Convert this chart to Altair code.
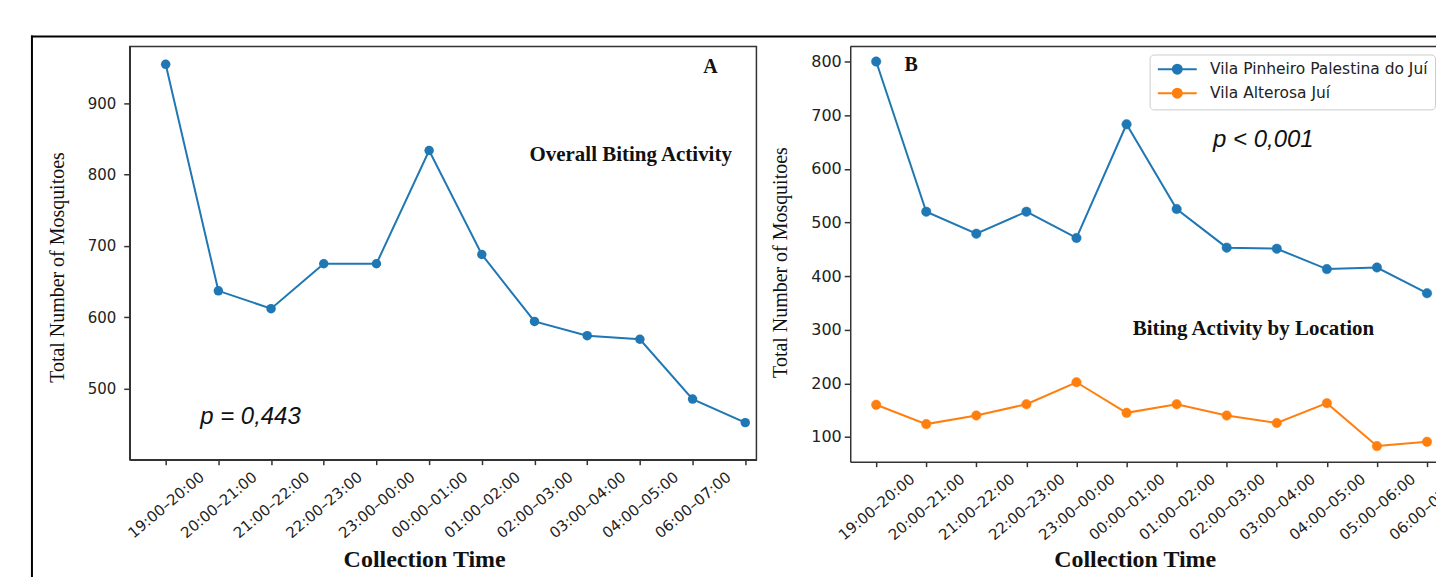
import altair as alt
import pandas as pd

# ---------------- data ----------------
a_labels = ["19:00–20:00", "20:00–21:00", "21:00–22:00", "22:00–23:00", "23:00–00:00",
            "00:00–01:00", "01:00–02:00", "02:00–03:00", "03:00–04:00", "04:00–05:00",
            "06:00–07:00"]
a_values = [955, 637, 612, 675, 675, 834, 688, 594, 574, 569, 485, 452]

b_labels = ["19:00–20:00", "20:00–21:00", "21:00–22:00", "22:00–23:00", "23:00–00:00",
            "00:00–01:00", "01:00–02:00", "02:00–03:00", "03:00–04:00", "04:00–05:00",
            "05:00–06:00", "06:00–07:00"]
series_names = ["Vila Pinheiro Palestina do Juí", "Vila Alterosa Juí"]
b_pinheiro = [800, 520, 479, 520, 471, 683, 525, 453, 451, 413, 416, 368]
b_alterosa = [160, 124, 140, 161, 202, 145, 161, 140, 126, 163, 83, 91]
colors = ["#1f77b4", "#ff7f0e"]

a_yticks = [500, 600, 700, 800, 900]
b_yticks = [100, 200, 300, 400, 500, 600, 700, 800]

# ---------------- tables ----------------
df_a = pd.DataFrame({"idx": list(range(len(a_values))), "value": a_values})
rows = []
for name, vals in zip(series_names, [b_pinheiro, b_alterosa]):
    for i, v in enumerate(vals):
        rows.append({"idx": i, "series": name, "value": v})
df_b = pd.DataFrame(rows)
one = pd.DataFrame({"k": [0]})

SERIF = "Liberation Serif"
SANS = "DejaVu Sans"
AX = "#333333"


def label_expr(labels, n):
    arr = list(labels) + [""] * (n - len(labels))
    return "[" + ",".join("'%s'" % t for t in arr) + "][datum.value]"


def x_axis(labels, n, tx, ty):
    return alt.Axis(values=list(range(n)), labelExpr=label_expr(labels, n),
                    labelAngle=320, labelAlign="center", labelBaseline="middle",
                    labelPadding=40, labelFont=SANS, labelFontSize=15, labelColor="#222222",
                    labelOverlap=False, labelFlush=False, labelBound=False,
                    tickSize=5, tickColor=AX, tickWidth=1.5,
                    domainColor=AX, domainWidth=1.5, grid=False,
                    title="Collection Time", titleFont=SERIF, titleFontSize=24,
                    titleFontWeight="bold", titleColor="#111111",
                    titleX=tx, titleY=ty, titleAlign="center", titleBaseline="middle",
                    titleAngle=0)


def y_axis(values, tx, ty, lfs, lpad):
    return alt.Axis(values=values, labelFont=SANS, labelFontSize=lfs, labelColor="#222222",
                    labelPadding=lpad, tickSize=6, tickColor=AX, tickWidth=1.5,
                    domainColor=AX, domainWidth=1.5, grid=False,
                    title="Total Number of Mosquitoes", titleFont=SERIF, titleFontSize=20,
                    titleFontWeight="normal", titleColor="#111111",
                    titleX=tx, titleY=ty, titleAngle=270, titleAlign="center",
                    titleBaseline="middle")


def note(text, x, y, size, weight="normal", style="normal", font=SERIF):
    return alt.Chart(one).mark_text(text=text, font=font, fontSize=size, fontWeight=weight,
                                    fontStyle=style, color="#111111", align="center",
                                    baseline="middle").encode(x=alt.value(x), y=alt.value(y))


# ---------------- panel A ----------------
WA, HA = 628, 414
xa = alt.X("idx:Q", scale=alt.Scale(domain=[-0.682, 11.212], nice=False, zero=False),
           axis=x_axis(a_labels, 12, 295, 100))
ya = alt.Y("value:Q", scale=alt.Scale(domain=[400, 980], nice=False, zero=False),
           axis=y_axis(a_yticks, -72, 221, 15, 8))

a_line = alt.Chart(df_a).mark_line(color=colors[0], strokeWidth=2).encode(x=xa, y=ya)
a_pts = alt.Chart(df_a).mark_point(filled=True, color=colors[0], size=90, opacity=1).encode(x=xa, y=ya)

frame_left = alt.Chart(one).mark_rule(color="black", strokeWidth=2).encode(
    x=alt.value(-98), y=alt.value(-11), y2=alt.value(545))
frame_top = alt.Chart(one).mark_rule(color="black", strokeWidth=2).encode(
    x=alt.value(-99), x2=alt.value(1366), y=alt.value(-10))

panel_a = alt.layer(
    frame_left, frame_top, a_line, a_pts,
    note("A", 582, 21, 20, "bold"),
    note("Overall Biting Activity", 502, 109, 21, "bold"),
    note("p = 0,443", 121, 371, 24, style="italic", font="Liberation Sans"),
).properties(width=WA, height=HA, view=alt.ViewBackground(stroke=AX, strokeWidth=1.5))

# ---------------- panel B ----------------
WB, HB = 604, 416
xb = alt.X("idx:Q", scale=alt.Scale(domain=[-0.518, 11.518], nice=False, zero=False),
           axis=x_axis(b_labels, 12, 285, 98))
yb = alt.Y("value:Q", scale=alt.Scale(domain=[54, 828], nice=False, zero=False),
           axis=y_axis(b_yticks, -70, 216, 16, 3))

sym = "M-3.9,0H3.9M0.9,0A0.9,0.9,0,1,1,-0.9,0A0.9,0.9,0,1,1,0.9,0Z"
leg = alt.Legend(title=None, orient="none", legendX=1022, legendY=8,
                 symbolType=sym, symbolSize=100, symbolStrokeWidth=2, symbolOffset=13,
                 labelFont=SANS, labelFontSize=15.5, labelColor="#222222", labelOffset=25,
                 labelLimit=500, rowPadding=6, padding=7, fillColor="white",
                 strokeColor="#cccccc", cornerRadius=4)
cscale = alt.Scale(domain=series_names, range=colors)

b_line = alt.Chart(df_b).mark_line(strokeWidth=2).encode(
    x=xb, y=yb, stroke=alt.Stroke("series:N", scale=cscale, legend=leg, sort=series_names))
b_pts = alt.Chart(df_b).mark_point(filled=True, size=90, opacity=1, strokeWidth=0.5).encode(
    x=xb, y=yb,
    fill=alt.Fill("series:N", scale=cscale, legend=leg, sort=series_names),
    stroke=alt.Stroke("series:N", scale=cscale, legend=leg, sort=series_names))

b_top = alt.Chart(one).mark_rule(color=AX, strokeWidth=1.5).encode(
    x=alt.value(0), x2=alt.value(WB), y=alt.value(0))

panel_b = alt.layer(
    b_top, b_line, b_pts,
    note("B", 61, 19, 20, "bold"),
    note("p < 0,001", 414, 94, 24, style="italic", font="Liberation Sans"),
    note("Biting Activity by Location", 404, 283, 21, "bold"),
).properties(width=WB, height=HB, view=alt.ViewBackground(stroke=None))

chart = alt.hconcat(panel_a, panel_b, spacing=94, bounds="flush").properties(
    padding={"left": 21, "top": 25, "right": -59, "bottom": -16},
    background="white",
).configure_view(stroke=None)

chart.save("out.html", embed_options={"renderer": "svg", "actions": False})
